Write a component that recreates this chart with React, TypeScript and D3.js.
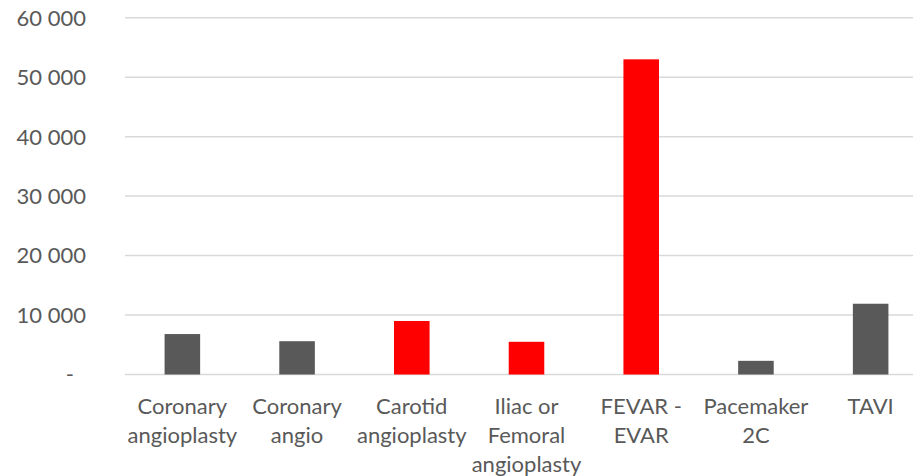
import { useRef, useEffect } from 'react'
import * as d3 from 'd3'

const categories = [
  'Coronary angioplasty',
  'Coronary angio',
  'Carotid angioplasty',
  'Iliac or Femoral angioplasty',
  'FEVAR - EVAR',
  'Pacemaker 2C',
  'TAVI',
]
// label lines as wrapped in the picture
const labelLines = [
  ['Coronary', 'angioplasty'],
  ['Coronary', 'angio'],
  ['Carotid', 'angioplasty'],
  ['Iliac or', 'Femoral', 'angioplasty'],
  ['FEVAR -', 'EVAR'],
  ['Pacemaker', '2C'],
  ['TAVI'],
]
const values = [6800, 5600, 9000, 5500, 53000, 2300, 11900]
const highlighted = [false, false, true, true, true, false, false]
const yTicks = [0, 10000, 20000, 30000, 40000, 50000, 60000]

const W = 913
const H = 476
const font = 'Lato, "Open Sans", sans-serif'
const textColor = '#595959'

export default function App() {
  const ref = useRef<SVGSVGElement>(null)

  useEffect(() => {
    if (!ref.current) return
    const svg = d3.select(ref.current)
    svg.selectAll('*').remove()

    const x = d3.scaleBand().domain(categories).range([125, 928]).paddingInner(0.69).paddingOuter(0.345)
    const y = d3.scaleLinear().domain([0, 60000]).range([374.5, 17.7])

    // gridlines
    svg
      .append('g')
      .selectAll('line')
      .data(yTicks)
      .join('line')
      .attr('x1', 125)
      .attr('x2', 928)
      .attr('y1', (d) => y(d))
      .attr('y2', (d) => y(d))
      .attr('stroke', '#d9d9d9')
      .attr('stroke-width', 1.5)

    // y labels
    svg
      .append('g')
      .selectAll('text')
      .data(yTicks)
      .join('text')
      .attr('x', (d) => (d === 0 ? 74 : 86))
      .attr('y', (d) => y(d))
      .attr('dy', '0.36em')
      .attr('text-anchor', 'end')
      .attr('font-family', font)
      .attr('font-size', '22px')
      .attr('fill', textColor)
      .text((d) => (d === 0 ? '-' : d3.format(',')(d).replace(/,/g, ' ')))

    // bars
    svg
      .append('g')
      .selectAll('rect')
      .data(categories)
      .join('rect')
      .attr('x', (d) => x(d)!)
      .attr('width', x.bandwidth())
      .attr('y', (_, i) => y(values[i]))
      .attr('height', (_, i) => y(0) - y(values[i]))
      .attr('fill', (_, i) => (highlighted[i] ? '#ff0000' : '#595959'))

    // category labels
    const lab = svg
      .append('g')
      .selectAll('text')
      .data(categories)
      .join('text')
      .attr('text-anchor', 'middle')
      .attr('font-family', font)
      .attr('font-size', '22px')
      .attr('fill', textColor)
    lab
      .selectAll('tspan')
      .data((_, i) => labelLines[i].map((l) => ({ l, i })))
      .join('tspan')
      .attr('x', (d) => x(categories[d.i])! + x.bandwidth() / 2)
      .attr('y', (_, j) => 414 + j * 29)
      .text((d) => d.l)
  }, [])

  return (
    <svg
      ref={ref}
      width={W}
      height={H}
      style={{ position: 'absolute', left: 0, top: 0, background: '#fff' }}
    />
  )
}
